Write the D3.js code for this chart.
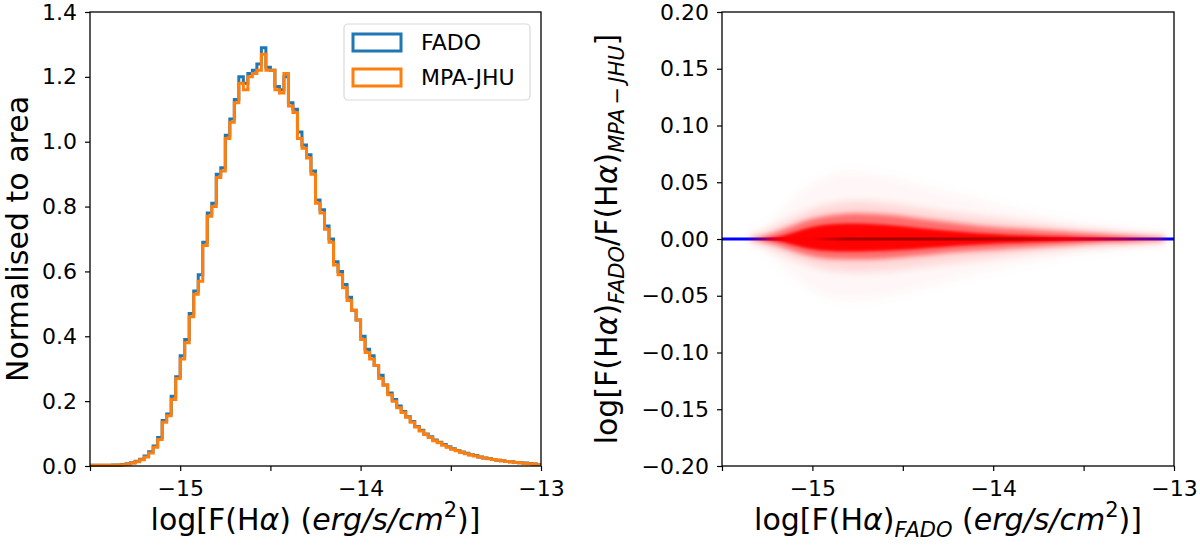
<!DOCTYPE html>
<html>
<head>
<meta charset="utf-8">
<script src="https://cdn.jsdelivr.net/npm/d3@7"></script>
<style>
  body { margin: 0; background: #fff; }
  svg text { font-family: "DejaVu Sans", sans-serif; fill: #000; }
</style>
</head>
<body>
<div class="svg"></div>
<script>
// histogram: bin edges start at -15.5, width 0.025, 100 bins
var binStart = -15.5, binWidth = 0.025;
var histFADO = [
  0.002,0.002,0.002,0.002,0.002,0.003,0.003,0.005,0.007,0.010,
  0.015,0.021,0.031,0.044,0.062,0.088,0.140,0.160,0.215,0.275,
  0.340,0.390,0.470,0.540,0.590,0.690,0.780,0.810,0.900,0.920,
  1.020,1.070,1.130,1.200,1.180,1.210,1.220,1.240,1.290,1.230,
  1.220,1.170,1.160,1.200,1.120,1.100,1.030,0.990,0.960,0.910,
  0.820,0.790,0.740,0.700,0.630,0.600,0.560,0.520,0.480,0.450,
  0.400,0.360,0.340,0.310,0.280,0.250,0.225,0.205,0.185,0.168,
  0.152,0.137,0.122,0.110,0.099,0.090,0.080,0.073,0.066,0.059,
  0.053,0.048,0.043,0.039,0.035,0.032,0.028,0.025,0.023,0.020,
  0.018,0.016,0.014,0.013,0.011,0.010,0.009,0.008,0.006,0.005
];
var histMPA = [
  0.002,0.002,0.002,0.002,0.002,0.002,0.003,0.004,0.006,0.009,
  0.013,0.019,0.028,0.040,0.058,0.082,0.135,0.155,0.205,0.270,
  0.330,0.380,0.460,0.530,0.570,0.680,0.770,0.800,0.890,0.910,
  1.010,1.060,1.120,1.180,1.160,1.200,1.210,1.220,1.270,1.220,
  1.220,1.160,1.150,1.210,1.110,1.090,1.010,0.980,0.950,0.900,
  0.810,0.780,0.730,0.690,0.620,0.590,0.550,0.510,0.480,0.450,
  0.390,0.350,0.330,0.310,0.270,0.250,0.220,0.200,0.180,0.165,
  0.150,0.135,0.120,0.108,0.097,0.088,0.078,0.072,0.064,0.058,
  0.052,0.047,0.042,0.038,0.034,0.031,0.028,0.025,0.022,0.020,
  0.018,0.016,0.014,0.012,0.011,0.010,0.008,0.007,0.006,0.005
];
var histNames = ["FADO", "MPA-JHU"];
var histColors = ["#1f77b4", "#ff7f0e"];

// scatter cloud, described as density bands (half widths above / below zero)
var bandX = [-15.35,-15.25,-15.15,-15.05,-14.95,-14.85,-14.75,-14.65,-14.55,-14.45,-14.35,-14.25,
             -14.15,-14.05,-13.95,-13.85,-13.75,-13.65,-13.55,-13.45,-13.35,-13.25,-13.15,-13.05];
var bandUp = [
  [0.004,0.012,0.030,0.045,0.055,0.060,0.060,0.058,0.055,0.050,0.046,0.042,0.038,0.034,0.030,0.026,0.022,0.019,0.016,0.013,0.011,0.009,0.007,0.005],
  [0.003,0.008,0.016,0.024,0.030,0.033,0.034,0.033,0.031,0.029,0.026,0.024,0.022,0.020,0.018,0.016,0.014,0.012,0.010,0.009,0.008,0.006,0.005,0.004],
  [0.000,0.003,0.009,0.016,0.020,0.022,0.023,0.022,0.021,0.019,0.017,0.015,0.013,0.011,0.010,0.009,0.008,0.007,0.006,0.005,0.004,0.003,0.002,0.001],
  [0.000,0.000,0.003,0.009,0.0125,0.0135,0.0138,0.0132,0.012,0.0104,0.0088,0.0072,0.0058,0.0047,0.0039,0.0032,0.0026,0.0021,0.0016,0.0011,0.0007,0.0003,0.000,0.000]
];
var bandDown = [
  [0.004,0.012,0.028,0.042,0.050,0.055,0.055,0.053,0.050,0.046,0.042,0.038,0.034,0.030,0.026,0.023,0.020,0.017,0.014,0.012,0.010,0.008,0.006,0.004],
  [0.003,0.008,0.015,0.022,0.027,0.029,0.030,0.029,0.028,0.026,0.024,0.022,0.020,0.018,0.016,0.014,0.012,0.011,0.009,0.008,0.007,0.006,0.005,0.004],
  [0.000,0.003,0.008,0.014,0.017,0.018,0.018,0.018,0.017,0.015,0.014,0.012,0.011,0.010,0.009,0.008,0.007,0.006,0.005,0.004,0.003,0.003,0.002,0.001],
  [0.000,0.000,0.003,0.008,0.0105,0.0110,0.0110,0.0106,0.0100,0.0090,0.0078,0.0066,0.0055,0.0046,0.0038,0.0032,0.0026,0.0021,0.0016,0.0011,0.0007,0.0003,0.000,0.000]
];
var bandOpacity = [0.03, 0.12, 0.5, 0.97];
var coreX = [-15.0, -14.8, -14.5, -14.2, -13.9, -13.6];
var coreOpacity = [0.0, 0.9, 0.95, 0.9, 0.6, 0.0];

var xTicks = [-15.5, -15, -14.5, -14, -13.5, -13];
var yTicksL = [0, 0.2, 0.4, 0.6, 0.8, 1.0, 1.2, 1.4];
var yTicksR = [-0.20, -0.15, -0.10, -0.05, 0.00, 0.05, 0.10, 0.15, 0.20];

var W = 1200, H = 548;
var svg = d3.select(".svg").append("svg").attr("width", W).attr("height", H);
var defs = svg.append("defs");

var fmtMinus = function (s) { return s.replace("-", "\u2212"); };

function panel(x0, x1, y0, y1, ydom, yticks, yfmt) {
  var x = d3.scaleLinear().domain([-15.5, -13]).range([x0, x1]);
  var y = d3.scaleLinear().domain(ydom).range([y1, y0]);
  return { x: x, y: y, x0: x0, x1: x1, y0: y0, y1: y1, yticks: yticks, yfmt: yfmt };
}

function axes(p) {
  var g = svg.append("g");
  var xa = d3.axisBottom(p.x).tickValues(xTicks).tickSize(5).tickPadding(9)
    .tickFormat(function (d) { return d % 1 === 0 ? fmtMinus(d3.format("d")(d)) : ""; });
  var ya = d3.axisLeft(p.y).tickValues(p.yticks).tickSize(5).tickPadding(8)
    .tickFormat(function (d) { return fmtMinus(p.yfmt(d)); });
  var gx = g.append("g").attr("transform", "translate(0," + p.y1 + ")").call(xa);
  var gy = g.append("g").attr("transform", "translate(" + p.x0 + ",0)").call(ya);
  [gx, gy].forEach(function (a) {
    a.select(".domain").remove();
    a.selectAll("line").attr("stroke", "#000").attr("stroke-width", 1.2);
    a.selectAll("text").attr("font-size", 22).attr("font-family", "DejaVu Sans").attr("fill", "#000");
  });
  gx.selectAll("text").attr("dy", "0.71em");
  g.append("rect").attr("x", p.x0).attr("y", p.y0)
    .attr("width", p.x1 - p.x0).attr("height", p.y1 - p.y0)
    .attr("fill", "none").attr("stroke", "#000").attr("stroke-width", 1.3);
}

// ---------------- left: histogram
var pL = panel(90, 541, 12, 466, [0, 1.4], yTicksL, d3.format(".1f"));

defs.append("clipPath").attr("id", "clipL").append("rect")
  .attr("x", pL.x0).attr("y", pL.y0 - 2).attr("width", pL.x1 - pL.x0).attr("height", pL.y1 - pL.y0 + 4);

function stepPath(vals) {
  var pts = [[binStart, 0]];
  vals.forEach(function (v, i) {
    pts.push([binStart + i * binWidth, v]);
    pts.push([binStart + (i + 1) * binWidth, v]);
  });
  pts.push([binStart + vals.length * binWidth, 0]);
  return d3.line().x(function (d) { return pL.x(d[0]); }).y(function (d) { return pL.y(d[1]); })(pts);
}

var gh = svg.append("g").attr("clip-path", "url(#clipL)");
[histFADO, histMPA].forEach(function (vals, k) {
  gh.append("path").attr("d", stepPath(vals))
    .attr("fill", "none").attr("stroke", histColors[k])
    .attr("stroke-width", 3).attr("stroke-linejoin", "miter");
});
axes(pL);

// legend
var lg = svg.append("g");
lg.append("rect").attr("x", 344).attr("y", 24).attr("width", 186).attr("height", 76)
  .attr("rx", 4).attr("fill", "#fff").attr("fill-opacity", 0.8)
  .attr("stroke", "#d9d9d9").attr("stroke-width", 1.2);
histNames.forEach(function (n, k) {
  var yy = 34 + k * 35;
  lg.append("rect").attr("x", 353).attr("y", yy).attr("width", 48).attr("height", 17)
    .attr("fill", "none").attr("stroke", histColors[k]).attr("stroke-width", 3);
  lg.append("text").attr("x", 421).attr("y", yy + 16).attr("font-size", 22).text(n);
});

// left axis labels
svg.append("text").attr("transform", "translate(28," + (pL.y0 + pL.y1) / 2 + ") rotate(-90)")
  .attr("text-anchor", "middle").attr("font-size", 30).text("Normalised to area");

var xl = svg.append("text").attr("x", (pL.x0 + pL.x1) / 2).attr("y", 530)
  .attr("text-anchor", "middle").attr("font-size", 30);
xl.append("tspan").text("log[F(H");
xl.append("tspan").attr("font-style", "italic").text("\u03b1");
xl.append("tspan").text(") (");
xl.append("tspan").attr("font-style", "italic").text("erg/s/cm");
xl.append("tspan").attr("font-size", 21).attr("dy", -13).text("2");
xl.append("tspan").attr("dy", 13).text(")]");

// ---------------- right: ratio scatter
var pR = panel(722, 1174, 12, 466, [-0.2, 0.2], yTicksR, d3.format(".2f"));

defs.append("clipPath").attr("id", "clipR").append("rect")
  .attr("x", pR.x0).attr("y", pR.y0).attr("width", pR.x1 - pR.x0).attr("height", pR.y1 - pR.y0);
var blurs = [5, 3.5, 2.5, 1.4];
blurs.forEach(function (s, i) {
  defs.append("filter").attr("id", "blur" + i).attr("x", "-20%").attr("y", "-200%")
    .attr("width", "140%").attr("height", "500%")
    .append("feGaussianBlur").attr("stdDeviation", s);
});

var gs = svg.append("g").attr("clip-path", "url(#clipR)");

// blue zero line under the points
gs.append("line").attr("x1", pR.x0).attr("x2", pR.x1)
  .attr("y1", pR.y(0)).attr("y2", pR.y(0))
  .attr("stroke", "#0000ff").attr("stroke-width", 3.2);

bandUp.forEach(function (up, k) {
  var area = d3.area().curve(d3.curveBasis)
    .x(function (d, i) { return pR.x(bandX[i]); })
    .y0(function (d, i) { return pR.y(-bandDown[k][i]); })
    .y1(function (d, i) { return pR.y(up[i]); });
  gs.append("path").datum(up).attr("d", area)
    .attr("fill", "#ff0000").attr("fill-opacity", bandOpacity[k])
    .attr("filter", "url(#blur" + k + ")");
});

// dark red where the dense cloud covers the line
var grad = defs.append("linearGradient").attr("id", "coreGrad")
  .attr("gradientUnits", "userSpaceOnUse")
  .attr("x1", pR.x(coreX[0])).attr("x2", pR.x(coreX[coreX.length - 1]))
  .attr("y1", 0).attr("y2", 0);
coreX.forEach(function (v, i) {
  grad.append("stop")
    .attr("offset", (v - coreX[0]) / (coreX[coreX.length - 1] - coreX[0]))
    .attr("stop-color", "#a00000").attr("stop-opacity", coreOpacity[i]);
});
gs.append("line").attr("x1", pR.x(coreX[0])).attr("x2", pR.x(coreX[coreX.length - 1]))
  .attr("y1", pR.y(0)).attr("y2", pR.y(0))
  .attr("stroke", "url(#coreGrad)").attr("stroke-width", 3.2);

axes(pR);

svg.append("text").attr("transform", "translate(617," + (pR.y0 + pR.y1) / 2 + ") rotate(-90)")
  .attr("text-anchor", "middle").attr("font-size", 30)
  .call(function (t) {
    t.append("tspan").text("log[F(H");
    t.append("tspan").attr("font-style", "italic").text("\u03b1");
    t.append("tspan").text(")");
    t.append("tspan").attr("font-style", "italic").attr("font-size", 21).attr("dy", 7).text("FADO");
    t.append("tspan").attr("dy", -7).text("/F(H");
    t.append("tspan").attr("font-style", "italic").text("\u03b1");
    t.append("tspan").text(")");
    t.append("tspan").attr("font-style", "italic").attr("font-size", 21).attr("dy", 7).text("MPA\u2009\u2212\u2009JHU");
    t.append("tspan").attr("dy", -7).text("]");
  });

var xr = svg.append("text").attr("x", (pR.x0 + pR.x1) / 2).attr("y", 530)
  .attr("text-anchor", "middle").attr("font-size", 30);
xr.append("tspan").text("log[F(H");
xr.append("tspan").attr("font-style", "italic").text("\u03b1");
xr.append("tspan").text(")");
xr.append("tspan").attr("font-style", "italic").attr("font-size", 21).attr("dy", 7).text("FADO");
xr.append("tspan").attr("dy", -7).text(" (");
xr.append("tspan").attr("font-style", "italic").text("erg/s/cm");
xr.append("tspan").attr("font-size", 21).attr("dy", -13).text("2");
xr.append("tspan").attr("dy", 13).text(")]");
</script>
</body>
</html>
